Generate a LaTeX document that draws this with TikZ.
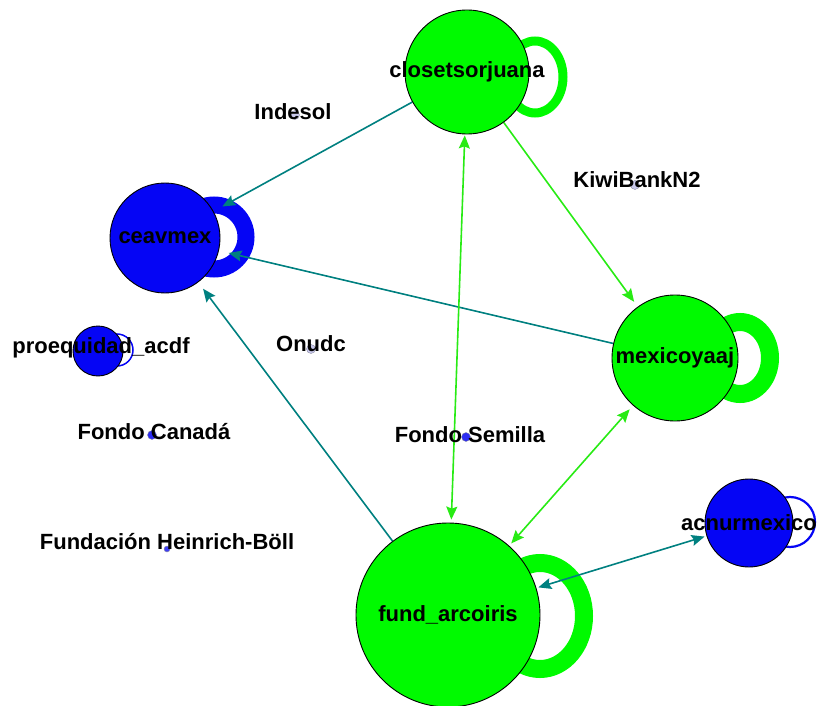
\documentclass[tikz,border=0pt]{standalone}
\usepackage{fontspec}
\setmainfont{Liberation Sans}
\usepackage{tikz}
\usetikzlibrary{positioning}
\usetikzlibrary{arrows.meta,backgrounds}
\definecolor{nodegreen}{RGB}{0,250,0}
\definecolor{nodeblue}{RGB}{5,5,245}
\definecolor{edgeteal}{RGB}{0,128,128}
\definecolor{edgegreen}{RGB}{40,235,20}
\definecolor{dotlav}{RGB}{200,200,235}
\tikzset{
  vlabel/.style = {font=\fontsize{22}{24}\selectfont\bfseries, inner sep=0pt},
  vnode/.style = {circle, draw=black, line width=0.9pt, inner sep=0pt},
  vgreen/.style = {vnode, fill=nodegreen},% vertex, green group
  vblue/.style = {vnode, fill=nodeblue},% vertex, blue group
  vdot/.style = {circle, inner sep=0pt, minimum size=9pt, fill=dotlav,
    draw=dotlav!70!black, line width=0.4pt},% isolated vertex
  tedge/.style = {draw=edgeteal, line width=1.6pt},
  gedge/.style = {draw=edgegreen, line width=1.6pt},
  gloop/.style = {draw=nodegreen},
  bloop/.style = {draw=nodeblue}
}

\begin{document}
\begin{tikzpicture}[x=1pt,y=-1pt,>={Stealth[length=13pt,width=11pt,inset=2pt]}]
\useasboundingbox (0,0) rectangle (817,706);

% big vertices
\node [vgreen, minimum size=124pt,
  label={[vlabel]center:closetsorjuana}] (clo) at (467,72) {};
\node [vblue, minimum size=110pt,
  label={[vlabel]center:ceavmex}] (cea) at (165,238) {};
\node [vgreen, minimum size=126pt,
  label={[vlabel]center:mexicoyaaj}] (mex) at (675,358) {};
\node [vgreen, minimum size=184pt,
  label={[vlabel]center:fund\_arcoiris}] (fund) at (448,615) {};
\node [vblue, minimum size=88pt,
  label={[vlabel]center:acnurmexico}] (acn) at (749,523) {};
\node [vblue, minimum size=50pt,
  label={[vlabel, xshift=3pt, yshift=3pt]center:proequidad\_acdf}] (pro) at (98,351) {};

% isolated vertices
\node [vdot, label={[vlabel, xshift=-2pt, yshift=3pt]center:Indesol}] (ind) at (295,115) {};
\node [vdot, label={[vlabel, xshift=2pt, yshift=5pt]center:KiwiBankN2}] (kiwi) at (635,185) {};
\node [vdot, label={[vlabel, yshift=5pt]center:Onudc}] (onu) at (311,349) {};
\node [vdot, fill=nodeblue!80!dotlav, label={[vlabel, xshift=2pt, yshift=3pt]center:Fondo Canad\'a}] (fcan) at (152,435) {};
\node [vdot, fill=nodeblue!80!dotlav, label={[vlabel, xshift=4pt, yshift=2pt]center:Fondo Semilla}] (fsem) at (466,437) {};
\node [vdot, minimum size=6pt, fill=nodeblue!70!dotlav, label={[vlabel, yshift=7pt]center:Fundaci\'on Heinrich-B\"oll}] (fhb) at (167,549) {};

\begin{scope}[on background layer]
  % self loops
  \draw [gloop, line width=9pt] ([shift={(68,5)}]clo.center) ellipse [x radius=28pt, y radius=36pt];
  \draw [bloop, line width=17pt] ([shift={(49,-1)}]cea.center) circle [radius=32pt];
  \draw [gloop, line width=18pt] ([shift={(65,0)}]mex.center) ellipse [x radius=30pt, y radius=36pt];
  \draw [gloop, line width=18pt] ([shift={(92,1)}]fund.center) ellipse [x radius=44pt, y radius=53pt];
  \draw [bloop, line width=2.2pt] ([shift={(41,-1)}]acn.center) circle [radius=25pt];
  \draw [bloop, line width=1.5pt] ([shift={(19,-1)}]pro.center) circle [radius=16pt];
  % edges
  \draw [tedge, ->, shorten >=10pt] (clo) -- (cea);
  \draw [tedge, ->, shorten >=10pt] (mex) -- (cea);
  \draw [tedge, ->, shorten >=8pt] (fund) -- (cea);
  \draw [gedge, ->, shorten >=6pt] (clo) -- (mex);
  \draw [gedge, <->, shorten >=3pt, shorten <=1pt] (clo) -- (fund);
  \draw [gedge, <->, shorten >=3pt, shorten <=5pt] (mex) -- (fund);
  \draw [tedge, <->, shorten >=2pt, shorten <=2pt] (fund) -- (acn);
\end{scope}
\end{tikzpicture}
\end{document}
